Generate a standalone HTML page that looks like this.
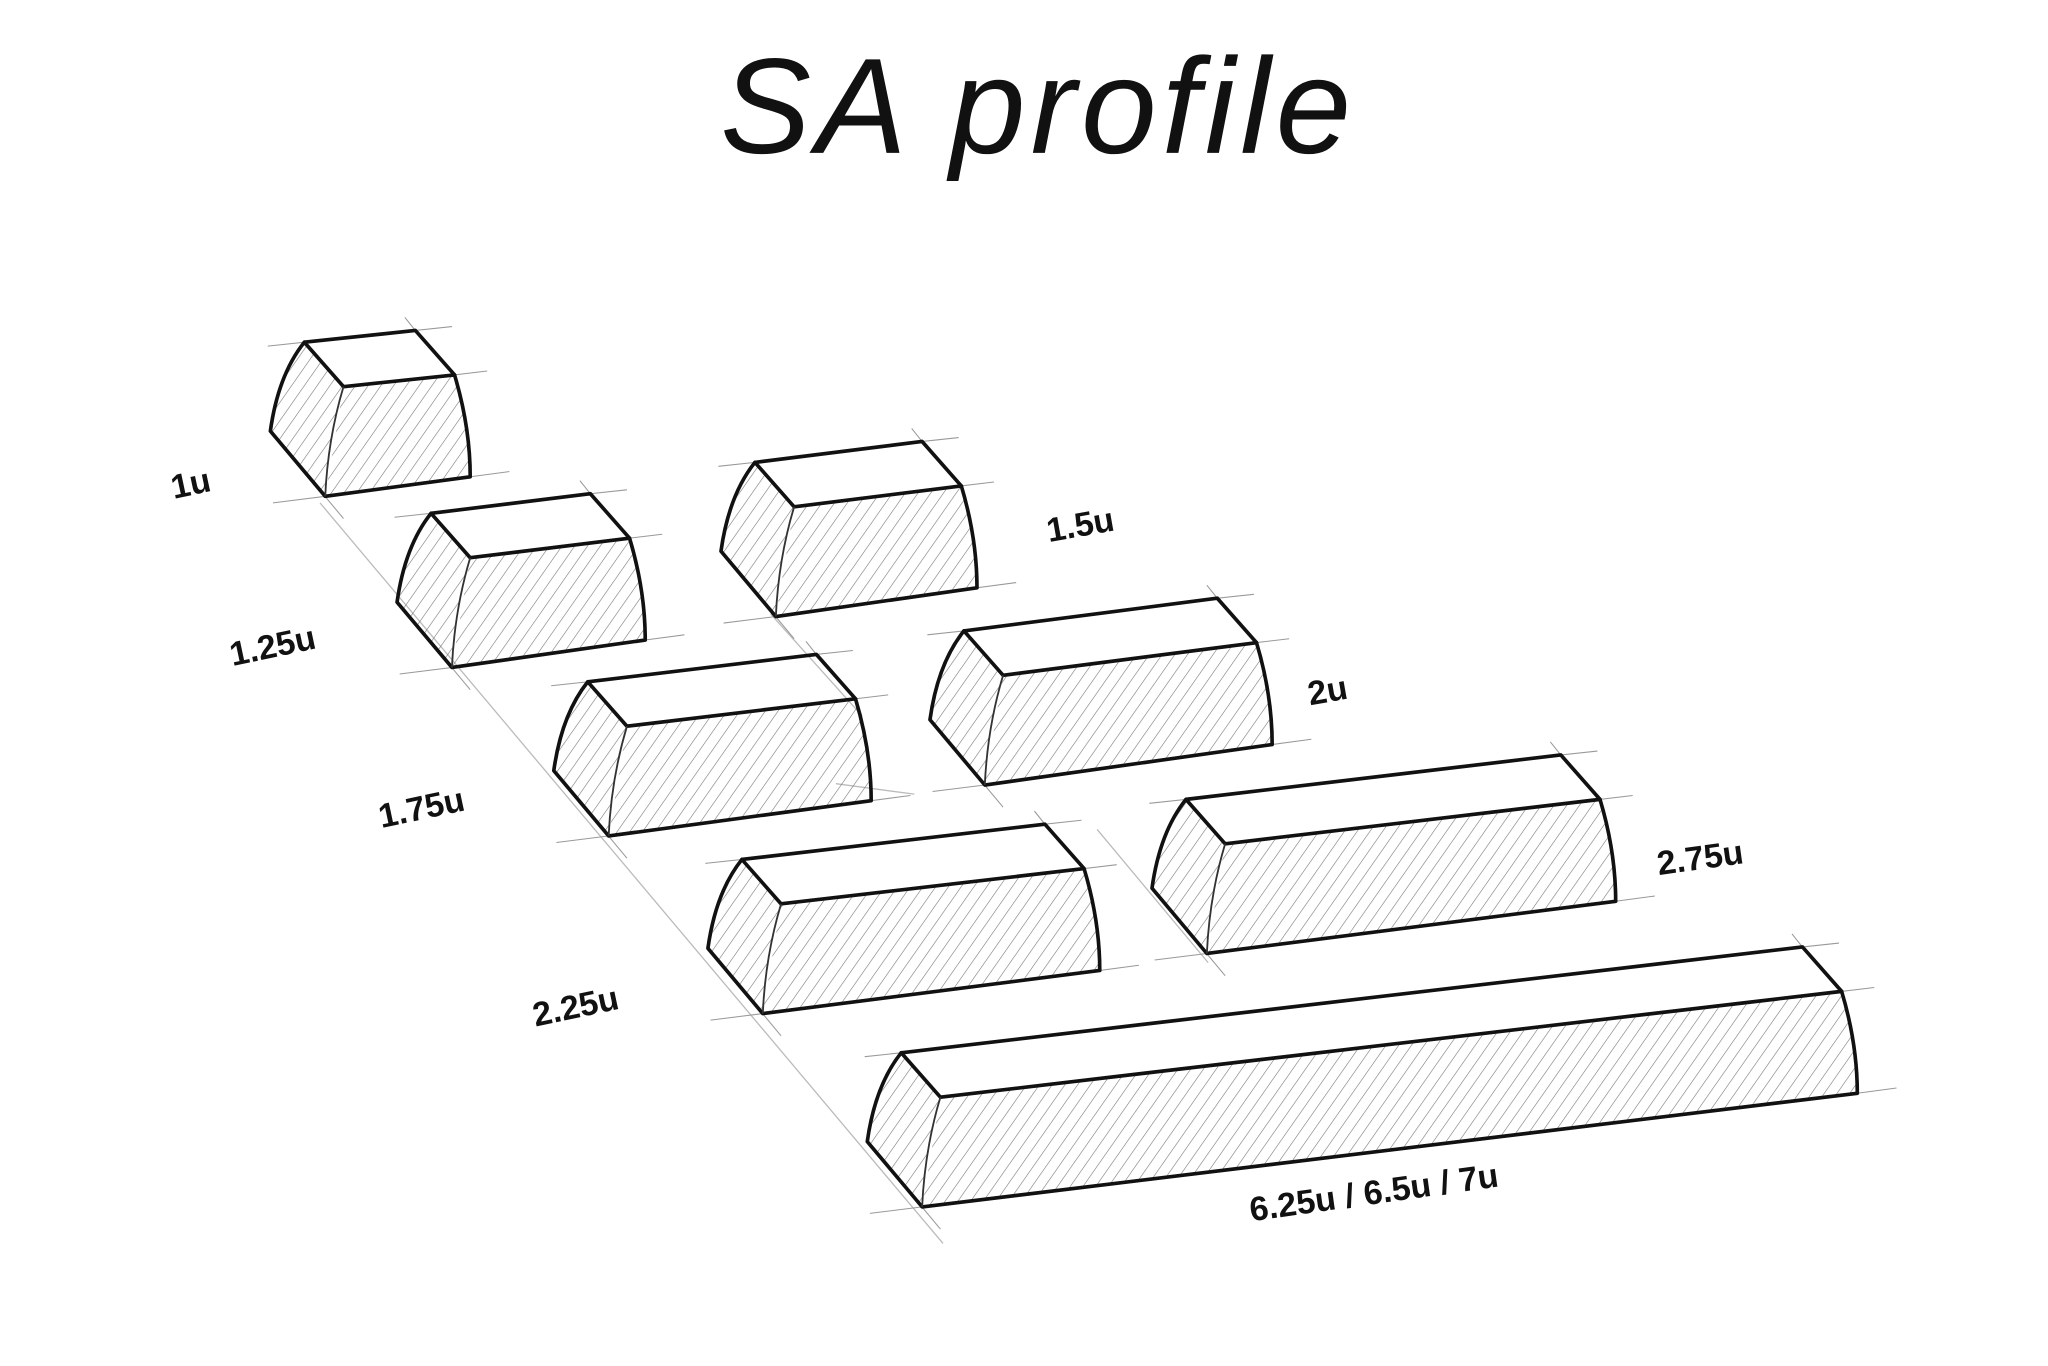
<!DOCTYPE html>
<html><head><meta charset="utf-8"><style>
html,body{margin:0;padding:0;background:#fff;}
svg{display:block;}
text{font-family:"Liberation Sans",sans-serif;fill:#111;}
</style></head><body>
<svg id="s" width="2048" height="1366" viewBox="0 0 1568 1045.8" xmlns="http://www.w3.org/2000/svg">
<defs>
<pattern id="h" patternUnits="userSpaceOnUse" width="8" height="8" patternTransform="rotate(35)">
<line x1="0" y1="0" x2="0" y2="8" stroke="#777" stroke-width="0.9"/>
</pattern>
</defs>
<text x="795" y="117" text-anchor="middle" font-size="104" font-style="italic" letter-spacing="4">SA profile</text>
<g stroke="#bbb" stroke-width="1" fill="none">
<line x1="245" y1="385" x2="722" y2="952"/>
<line x1="590" y1="470" x2="660" y2="548"/>
<line x1="840" y1="635" x2="925" y2="737"/>
<line x1="700" y1="608" x2="640" y2="600"/>
</g>
<g id="keys"></g>
<g font-size="26" font-weight="bold">
<text transform="translate(133,382) rotate(-12)">1u</text>
<text transform="translate(178,510) rotate(-12)">1.25u</text>
<text transform="translate(803,415) rotate(-10)">1.5u</text>
<text transform="translate(1003,540) rotate(-10)">2u</text>
<text transform="translate(292,634) rotate(-12)">1.75u</text>
<text transform="translate(1270,670) rotate(-8)">2.75u</text>
<text transform="translate(410,786) rotate(-12)">2.25u</text>
<text transform="translate(958,935) rotate(-8)">6.25u / 6.5u / 7u</text>
</g>
</svg>
<script>
var keys=[[233,262,318,253],[330,393,452,378],[578,354,706,338],[450,522,625,501],[738,483,932,458],[568,658,800,631],[908,612,1195,578],[690,806,1380,725]];
var g=document.getElementById('keys'),h='';
function P(a){return a[0].toFixed(1)+','+a[1].toFixed(1);}
keys.forEach(function(k){
 var BL=[k[0],k[1]],BR=[k[2],k[3]];
 var FL=[BL[0]+30,BL[1]+34],FR=[BR[0]+30,BR[1]+34];
 var BFL=[FL[0]-14,FL[1]+84],BFR=[FR[0]+12,FR[1]+78];
 var L=[BL[0]-26,BL[1]+68];
 var side='M'+P(BL)+' Q'+P([BL[0]-20,BL[1]+25])+' '+P(L)+' L'+P(BFL)+' Q'+P([FL[0]-12,FL[1]+40])+' '+P(FL)+'Z';
 var front='M'+P(FL)+' L'+P(FR)+' Q'+P([FR[0]+12,FR[1]+40])+' '+P(BFR)+' L'+P(BFL)+' Z';
 h+='<path d="'+side+'" fill="url(#h)" stroke="none"/>';
 h+='<path d="'+front+'" fill="url(#h)" stroke="none"/>';
 h+='<g stroke="#999" stroke-width="0.8">';
 [[BL,-28,3],[BR,28,-3],[FR,25,-3],[BFR,30,-4],[BFL,-40,5]].forEach(function(c){
   h+='<line x1="'+(c[0][0]-c[1])+'" y1="'+(c[0][1]-c[2])+'" x2="'+(c[0][0]+c[1])+'" y2="'+(c[0][1]+c[2])+'"/>';});
 h+='<line x1="'+(BFL[0]-6)+'" y1="'+(BFL[1]-7)+'" x2="'+(BFL[0]+14)+'" y2="'+(BFL[1]+17)+'"/>';
 h+='<line x1="'+(BR[0]-8)+'" y1="'+(BR[1]-10)+'" x2="'+(BR[0]+8)+'" y2="'+(BR[1]+10)+'"/>';
 h+='</g>';
 h+='<g fill="none" stroke="#111" stroke-width="2.8" stroke-linejoin="round" stroke-linecap="round">';
 h+='<path d="M'+P(BL)+' L'+P(BR)+' L'+P(FR)+' L'+P(FL)+' Z"/>';
 h+='<path d="M'+P(BL)+' Q'+P([BL[0]-20,BL[1]+25])+' '+P(L)+' L'+P(BFL)+' L'+P(BFR)+' Q'+P([FR[0]+12,FR[1]+40])+' '+P(FR)+'"/>';
 h+='</g>';
 h+='<path d="M'+P(FL)+' Q'+P([FL[0]-12,FL[1]+40])+' '+P(BFL)+'" fill="none" stroke="#333" stroke-width="1.4"/>';
});
g.innerHTML=h;
</script>
</body></html>
